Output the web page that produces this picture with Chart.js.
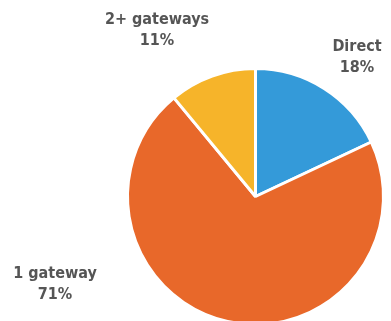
<!DOCTYPE html>
<html>
<head>
<meta charset="utf-8">
<script src="https://cdn.jsdelivr.net/npm/chart.js@4"></script>
<style>
  html, body { margin: 0; padding: 0; background: #fff; overflow: hidden; }
  #wrap { position: relative; width: 391px; height: 340px; }
</style>
</head>
<body>
<div id="wrap"><canvas id="myChart" width="391" height="340"></canvas></div>
<script>
var categories = ["Direct", "1 gateway", "2+ gateways"];
var shares = [18, 71, 11];
var colors = ['#349ad9', '#e8682a', '#f6b42a'];

// where each label is drawn (centre of first line)
var labelPos = [[357, 47], [55, 274], [157, 20]];

var labelPlugin = {
    id: 'outLabels',
    afterDraw: function(chart) {
        var ctx = chart.ctx;
        ctx.save();
        ctx.fillStyle = '#555555';
        ctx.font = 'bold 16px "DejaVu Sans Condensed", "DejaVu Sans", sans-serif';
        ctx.textAlign = 'center';
        ctx.textBaseline = 'middle';
        for (var i = 0; i < categories.length; i++) {
            var p = labelPos[i];
            ctx.fillText(categories[i], p[0], p[1]);
            ctx.fillText(shares[i] + '%', p[0], p[1] + 21);
        }
        ctx.restore();
    }
};

var ctx = document.getElementById("myChart");
var myChart = new Chart(ctx, {
    type: 'pie',
    data: {
        labels: categories,
        datasets: [{
            data: shares,
            backgroundColor: colors,
            borderColor: '#ffffff',
            borderWidth: 3
        }]
    },
    options: {
        responsive: false,
        animation: false,
        layout: { padding: { left: 126, right: 6, top: 67, bottom: 14 } },
        plugins: {
            legend: { display: false },
            tooltip: { enabled: false }
        }
    },
    plugins: [labelPlugin]
});
</script>
</body>
</html>
